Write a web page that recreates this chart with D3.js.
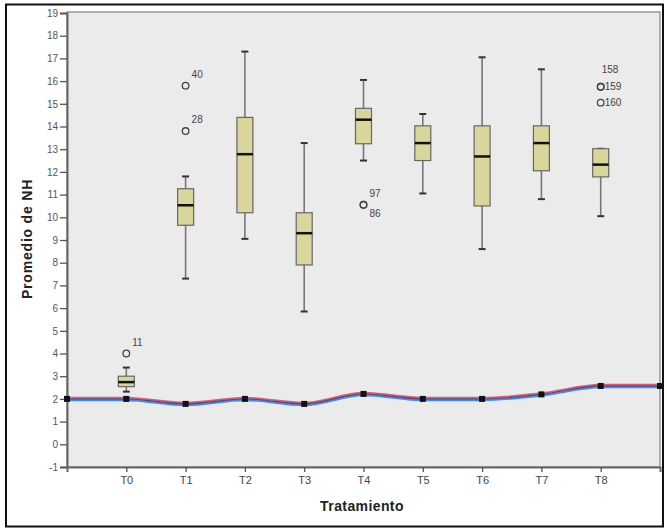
<!DOCTYPE html>
<html><head><meta charset="utf-8">
<script src="https://cdn.jsdelivr.net/npm/d3@7"></script>
<style>body{margin:0;background:#fff}svg{display:block}</style>
</head><body>
<svg id="c" width="667" height="530"></svg>
<script>
const categories = ["T0","T1","T2","T3","T4","T5","T6","T7","T8"];
const whiskerLow  = [2.32, 7.3, 9.05, 5.85, 12.5, 11.05, 8.6, 10.8, 10.05];
const q1          = [2.54, 9.65, 10.2, 7.9, 13.24, 12.5, 10.5, 12.05, 11.78];
const median      = [2.74, 10.53, 12.78, 9.3, 14.3, 13.27, 12.68, 13.27, 12.32];
const q3          = [3.0, 11.26, 14.4, 10.2, 14.8, 14.03, 14.03, 14.03, 13.02];
const whiskerHigh = [3.38, 11.8, 17.3, 13.27, 16.05, 14.55, 17.05, 16.52, 13.02];
const outlierCat   = ["T0","T1","T1","T4","T4","T8","T8","T8"];
const outlierValue = [4.0, 15.8, 13.8, 10.55, 10.55, 15.75, 15.75, 15.05];
const outlierLabel = ["11","40","28","97","86","158","159","160"];
const lineX = [0,1,2,3,4,5,6,7,8,9,10];
const lineY = [2.0, 2.0, 1.78, 2.0, 1.78, 2.22, 2.0, 2.0, 2.2, 2.57, 2.57];
const yTicks = d3.range(-1, 20);

const svg = d3.select("#c");
const L = 67, R = 660, T = 12, B = 467;
const x = d3.scaleLinear().domain([0, 10]).range([L, R]);
const y = d3.scaleLinear().domain([-1, 19]).range([B, 13]);
const catPos = c => x(categories.indexOf(c) + 1);

// outer frame
svg.append("rect").attr("x",6).attr("y",4.5).attr("width",657).attr("height",522)
  .attr("fill","#fff").attr("stroke","#111").attr("stroke-width",2);
// plot area
svg.append("rect").attr("x",L).attr("y",T).attr("width",R-L).attr("height",B-T)
  .attr("fill","#ebebeb").attr("stroke","#999").attr("stroke-width",1.5);

// y axis
const ya = svg.append("g").attr("transform",`translate(${L},0)`)
  .call(d3.axisLeft(y).tickValues(yTicks).tickSize(7).tickPadding(2).tickFormat(d => String(d)));
ya.select(".domain").attr("stroke","#666").attr("stroke-width",2);
ya.selectAll(".tick line").attr("stroke","#555").attr("stroke-width",1.3);
ya.selectAll("text").attr("font-family","Liberation Sans, Arial, sans-serif").attr("font-size",10).attr("fill","#555");

// x axis
const xa = svg.append("g").attr("transform",`translate(0,${B})`)
  .call(d3.axisBottom(x).tickValues(categories.map((c,i)=>i+1)).tickSize(5).tickPadding(4)
    .tickFormat(d => categories[d-1]));
xa.select(".domain").attr("stroke","#666").attr("stroke-width",2);
xa.selectAll(".tick line").attr("stroke","#555").attr("stroke-width",1.3);
xa.selectAll("text").attr("font-family","Liberation Sans, Arial, sans-serif").attr("font-size",11).attr("fill","#444");

// axis titles
svg.append("text").attr("x",362).attr("y",511).attr("text-anchor","middle")
  .attr("font-family","Liberation Sans, Arial, sans-serif").attr("font-weight","bold")
  .attr("font-size",14).attr("letter-spacing",0.4).attr("fill","#222").text("Tratamiento");
svg.append("text").attr("transform","translate(32,239) rotate(-90)").attr("text-anchor","middle")
  .attr("font-family","Liberation Sans, Arial, sans-serif").attr("font-weight","bold")
  .attr("font-size",14).attr("letter-spacing",0.8).attr("fill","#222").text("Promedio de NH");

// boxplots
const bw = 16, cw = 7;
const g = svg.append("g");
categories.forEach((c,i) => {
  const cx = catPos(c);
  g.append("line").attr("x1",cx).attr("x2",cx).attr("y1",y(whiskerHigh[i])).attr("y2",y(q3[i]))
    .attr("stroke","#777").attr("stroke-width",1.6);
  g.append("line").attr("x1",cx).attr("x2",cx).attr("y1",y(q1[i])).attr("y2",y(whiskerLow[i]))
    .attr("stroke","#777").attr("stroke-width",1.6);
  [whiskerHigh[i], whiskerLow[i]].forEach(v => {
    g.append("line").attr("x1",cx-cw/2).attr("x2",cx+cw/2).attr("y1",y(v)).attr("y2",y(v))
      .attr("stroke","#333").attr("stroke-width",2);
  });
  g.append("rect").attr("x",cx-bw/2).attr("y",y(q3[i])).attr("width",bw).attr("height",y(q1[i])-y(q3[i]))
    .attr("fill","#d8d69a").attr("stroke","#666").attr("stroke-width",1.2);
  g.append("line").attr("x1",cx-bw/2).attr("x2",cx+bw/2).attr("y1",y(median[i])).attr("y2",y(median[i]))
    .attr("stroke","#111").attr("stroke-width",2.5);
});

// outliers
const lblOffset = {"11":[6,-8],"40":[6,-8],"28":[6,-8],"97":[6,-8],"86":[6,12],"158":[1,-14],"159":[4,3],"160":[4,3]};
outlierValue.forEach((v,i) => {
  const cx = catPos(outlierCat[i]), cy = y(v);
  g.append("circle").attr("cx",cx).attr("cy",cy).attr("r",3.3)
    .attr("fill","none").attr("stroke","#444").attr("stroke-width",1.3);
  const o = lblOffset[outlierLabel[i]];
  g.append("text").attr("x",cx+o[0]).attr("y",cy+o[1])
    .attr("font-family","Liberation Sans, Arial, sans-serif").attr("font-size",10).attr("fill","#444")
    .text(outlierLabel[i]);
});

// line
const lineGen = (dy) => d3.line().x((d,i)=>x(lineX[i])).y((d,i)=>y(lineY[i])+dy).curve(d3.curveMonotoneX);
svg.append("path").datum(lineY).attr("d",lineGen(1.2)).attr("fill","none").attr("stroke","#3a8ee6").attr("stroke-width",2.2);
svg.append("path").datum(lineY).attr("d",lineGen(-1.2)).attr("fill","none").attr("stroke","#e25a6a").attr("stroke-width",1.8);
svg.append("path").datum(lineY).attr("d",lineGen(0)).attr("fill","none").attr("stroke","#5a3f8a").attr("stroke-width",1.2);
svg.selectAll(".mk").data(lineY).enter().append("rect")
  .attr("x",(d,i)=>x(lineX[i])-3).attr("y",d=>y(d)-3).attr("width",6).attr("height",6).attr("fill","#111");
</script>
</body></html>
